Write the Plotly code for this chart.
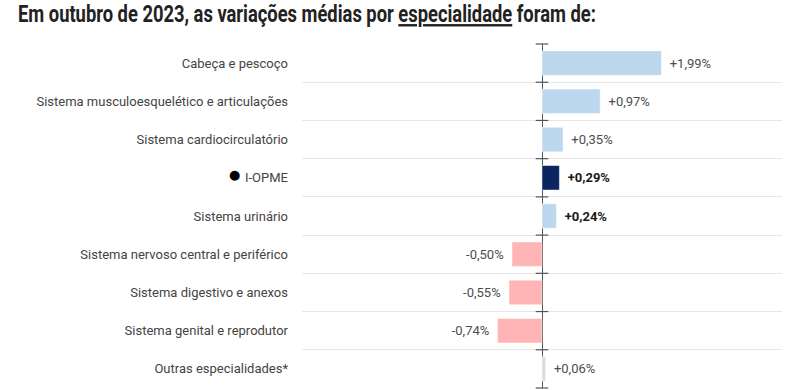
import plotly.graph_objects as go

categories = [
    "Cabeça e pescoço",
    "Sistema musculoesquelético e articulações",
    "Sistema cardiocirculatório",
    "I-OPME",
    "Sistema urinário",
    "Sistema nervoso central e periférico",
    "Sistema digestivo e anexos",
    "Sistema genital e reprodutor",
    "Outras especialidades*",
]
values = [1.99, 0.97, 0.35, 0.29, 0.24, -0.50, -0.55, -0.74, 0.06]
bold_labels = [False, False, False, True, True, False, False, False, False]
bar_colors = ["#bdd7ee", "#bdd7ee", "#bdd7ee", "#0b2462", "#bdd7ee",
              "#ffb5b5", "#ffb5b5", "#ffb5b5", "#dcdcdc"]
title_text = ("Em outubro de 2023, as variações médias por "
              "<u>especialidade</u> foram de:")

n = len(categories)
ypos = list(range(n))
SP = "\u2009\u2009"


def fmt(v, b):
    s = ("+" if v >= 0 else "-") + f"{abs(v):.2f}".replace(".", ",") + "%"
    if b:
        s = "<b>" + s + "</b>"
    return (SP + s) if v >= 0 else (s + SP)


texts = [fmt(v, b) for v, b in zip(values, bold_labels)]
text_colors = ["#1a1a1a" if b else "#4d4d4d" for b in bold_labels]

ticktext = []
for c in categories:
    if c == "I-OPME":
        ticktext.append("<span style='font-size:23px;color:#000'>●</span> " + c)
    else:
        ticktext.append(c)

fig = go.Figure()
fig.add_trace(go.Bar(
    x=values, y=ypos, orientation="h",
    marker=dict(color=bar_colors, line=dict(color="rgba(255,255,255,0.45)", width=1)),
    width=0.64,
    text=texts, textposition="outside", cliponaxis=False,
    textfont=dict(family="Roboto", size=13, color=text_colors),
    hoverinfo="skip",
))

# zero-line tick marks at row boundaries
bounds = [i - 0.5 for i in range(n + 1)]
fig.add_trace(go.Scatter(
    x=[0] * len(bounds), y=bounds, mode="markers",
    marker=dict(symbol="line-ew", size=9, line=dict(color="#555555", width=1.2)),
    cliponaxis=False, hoverinfo="skip", showlegend=False,
))

fig.update_layout(
    width=803, height=390,
    margin=dict(l=302, r=21, t=44, b=2),
    paper_bgcolor="white", plot_bgcolor="white",
    showlegend=False,
    title=dict(
        text=title_text,
        x=18 / 803, xref="container", xanchor="left",
        y=1 - 5 / 390, yref="container", yanchor="top",
        font=dict(family="Roboto", size=24, color="#222222", weight="bold"),
    ),
    font=dict(family="Roboto", size=13, color="#444444"),
)

fig.update_xaxes(
    range=[-4, 4], showgrid=False, showticklabels=False, ticks="",
    zeroline=True, zerolinecolor="#555555", zerolinewidth=1.2,
)
fig.update_yaxes(
    range=[n - 0.5, -0.5], tickmode="array", tickvals=ypos, ticktext=ticktext,
    showgrid=False, zeroline=False, ticks="", ticklabelstandoff=13,
    tickfont=dict(family="Roboto", size=13, color="#444444"),
    minor=dict(tickmode="array", tickvals=bounds, showgrid=True,
               gridcolor="#e6e6e6", gridwidth=1, ticks=""),
)

post = """
document.body.style.margin='0px';
var t = document.querySelector('.gtitle');
if (t) {
  var bb = t.getBBox();
  var s = 578 / bb.width;
  t.setAttribute('transform', 'translate(' + bb.x + ',0) scale(' + s + ',1) translate(' + (-bb.x) + ',0)');
}
"""
fig.write_html("out.html", post_script=post, config={"displayModeBar": False})
